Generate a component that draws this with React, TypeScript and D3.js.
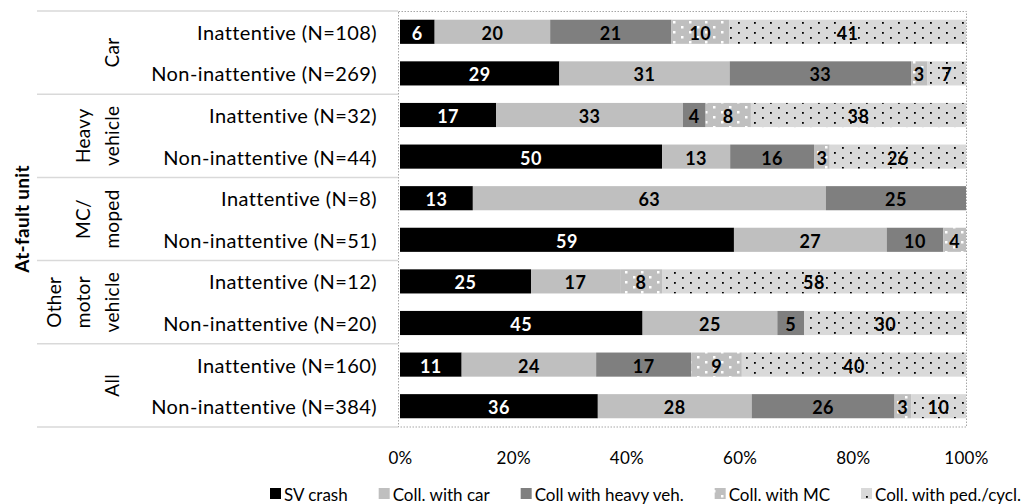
import React, { useEffect, useRef } from 'react';
import * as d3 from 'd3';

const groupLabels = [['Car'], ['Heavy', 'vehicle'], ['MC/', 'moped'], ['Other', 'motor', 'vehicle'], ['All']];
const rowLabels = [
  'Inattentive (N=108)', 'Non-inattentive (N=269)',
  'Inattentive (N=32)', 'Non-inattentive (N=44)',
  'Inattentive (N=8)', 'Non-inattentive (N=51)',
  'Inattentive (N=12)', 'Non-inattentive (N=20)',
  'Inattentive (N=160)', 'Non-inattentive (N=384)',
];
const seriesNames = ['SV crash', 'Coll. with car', 'Coll with heavy veh.', 'Coll. with MC', 'Coll. with ped./cycl.'];
const svCrash = [6, 29, 17, 50, 13, 59, 25, 45, 11, 36];
const collCar = [20, 31, 33, 13, 63, 27, 17, 25, 24, 28];
const collHeavy = [21, 33, 4, 16, 25, 10, 0, 5, 17, 26];
const collMC = [10, 3, 8, 3, 0, 4, 8, 0, 9, 3];
const collPed = [41, 7, 38, 26, 0, 0, 58, 30, 40, 10];
const xTicks = [0, 0.2, 0.4, 0.6, 0.8, 1];

const FONT = 'Lato, "Liberation Sans", sans-serif';

const App = () => {
  const svgRef = useRef<SVGSVGElement>(null);

  useEffect(() => {
    const svg = d3.select(svgRef.current);
    svg.selectAll('g').remove();

    const columns = [svCrash, collCar, collHeavy, collMC, collPed];
    const rows = rowLabels.map((label, i) => {
      const r: any = { label, idx: i };
      seriesNames.forEach((s, j) => { r[s] = columns[j][i]; });
      return r;
    });
    // labels are rounded shares, so each bar is scaled to fill 100%
    const stacked = d3.stack().keys(seriesNames).offset(d3.stackOffsetExpand)(rows);

    const x = d3.scaleLinear().domain([0, 1]).range([400, 966]);
    const y = d3.scaleBand().domain(rowLabels.map((_, i) => String(i))).range([11, 427])
      .paddingInner(0.42).paddingOuter(0.21);
    const groupH = (427 - 11) / groupLabels.length;

    const fills = ['#000000', '#bfbfbf', '#7f7f7f', 'url(#mcPat)', 'url(#pedPat)'];
    const textFill = ['#ffffff', '#000000', '#000000', '#000000', '#000000'];

    const root = svg.append('g').style('font-family', FONT);

    // plot border
    root.append('rect')
      .attr('x', 398.5).attr('y', 11.5).attr('width', 568).attr('height', 415.5)
      .attr('fill', 'none').attr('stroke', '#a6a6a6').attr('stroke-dasharray', '1.5,1.5');

    // group separators on the category axis
    d3.range(groupLabels.length + 1).forEach(i => {
      root.append('line')
        .attr('x1', 37).attr('x2', 398)
        .attr('y1', 11 + i * groupH).attr('y2', 11 + i * groupH)
        .attr('stroke', '#d9d9d9').attr('stroke-width', 1.5);
    });

    // bars
    stacked.forEach((layer, si) => {
      const g = root.append('g');
      g.selectAll('rect')
        .data(layer)
        .enter()
        .append('rect')
        .attr('x', d => x(d[0]))
        .attr('y', d => y(String(d.data.idx)))
        .attr('width', d => x(d[1]) - x(d[0]))
        .attr('height', y.bandwidth())
        .attr('fill', fills[si]);
      g.selectAll('text')
        .data(layer.filter(d => d.data[seriesNames[si]] > 0))
        .enter()
        .append('text')
        .attr('x', d => (x(d[0]) + x(d[1])) / 2)
        .attr('y', d => y(String(d.data.idx)) + y.bandwidth() / 2 + 1)
        .attr('text-anchor', 'middle')
        .attr('dominant-baseline', 'central')
        .attr('font-size', 18)
        .attr('font-weight', 'bold')
        .attr('letter-spacing', 0.5)
        .attr('fill', textFill[si])
        .text(d => d.data[seriesNames[si]]);
    });

    // row labels
    root.append('g').selectAll('text')
      .data(rowLabels)
      .enter()
      .append('text')
      .attr('x', 377)
      .attr('y', (d, i) => y(String(i)) + y.bandwidth() / 2)
      .attr('text-anchor', 'end')
      .attr('dominant-baseline', 'central')
      .attr('font-size', 20)
      .attr('letter-spacing', 0.4)
      .attr('fill', '#000')
      .text(d => d);

    // group labels (rotated)
    groupLabels.forEach((lines, gi) => {
      const cy = 11 + (gi + 0.5) * groupH;
      lines.forEach((line, li) => {
        const cx = 111 - (lines.length - 1 - li) * 29;
        root.append('text')
          .attr('transform', `translate(${cx},${cy}) rotate(-90)`)
          .attr('text-anchor', 'middle')
          .attr('dominant-baseline', 'central')
          .attr('font-size', 19)
          .attr('letter-spacing', 0.3)
          .text(line);
      });
    });

    // axis title
    root.append('text')
      .attr('transform', `translate(21,219) rotate(-90)`)
      .attr('text-anchor', 'middle')
      .attr('dominant-baseline', 'central')
      .attr('font-size', 19)
      .attr('font-weight', 'bold')
      .attr('letter-spacing', 0.3)
      .text('At-fault unit');

    // x axis
    const xAxis = root.append('g')
      .attr('transform', 'translate(0,449)')
      .call(d3.axisBottom(x).tickValues(xTicks).tickFormat(d3.format('.0%')).tickSize(0));
    xAxis.select('.domain').remove();
    xAxis.selectAll('text')
      .attr('font-size', 17)
      .attr('font-family', FONT)
      .attr('letter-spacing', 0.3)
      .attr('fill', '#000');

    // legend, spread between the reference's left and right ends
    const legend = root.append('g').attr('transform', 'translate(0,494)');
    const items = seriesNames.map((name, i) => {
      const t = legend.append('text')
        .attr('dominant-baseline', 'central')
        .attr('font-size', 17)
        .text(name);
      const w = (t.node() as SVGTextElement).getComputedTextLength();
      return { t, w, i };
    });
    const markW = 11, markGap = 3;
    const left = 270, right = 1021;
    const used = d3.sum(items, d => d.w + markW + markGap);
    const gap = (right - left - used) / (items.length - 1);
    let lx = left;
    items.forEach(({ t, w, i }) => {
      legend.append('rect')
        .attr('x', lx).attr('y', -6).attr('width', markW).attr('height', markW)
        .attr('fill', fills[i]);
      t.attr('x', lx + markW + markGap).attr('y', 0);
      lx += markW + markGap + w + gap;
    });
  }, []);

  return (
    <svg ref={svgRef} width={1029} height={504}
      style={{ position: 'absolute', left: 0, top: 0, background: '#fff' }}>
      <defs>
        <pattern id="mcPat" patternUnits="userSpaceOnUse" width={16} height={10}>
          <rect width={16} height={10} fill="#bfbfbf" />
          <rect x={1} y={1} width={2.5} height={2.5} fill="#ffffff" />
          <rect x={9} y={6} width={2.5} height={2.5} fill="#ffffff" />
        </pattern>
        <pattern id="pedPat" patternUnits="userSpaceOnUse" width={16} height={10}>
          <rect width={16} height={10} fill="#d9d9d9" />
          <rect x={2} y={2} width={1.8} height={1.8} fill="#000000" />
          <rect x={10} y={7} width={1.8} height={1.8} fill="#000000" />
        </pattern>
      </defs>
    </svg>
  );
};

export default App;
